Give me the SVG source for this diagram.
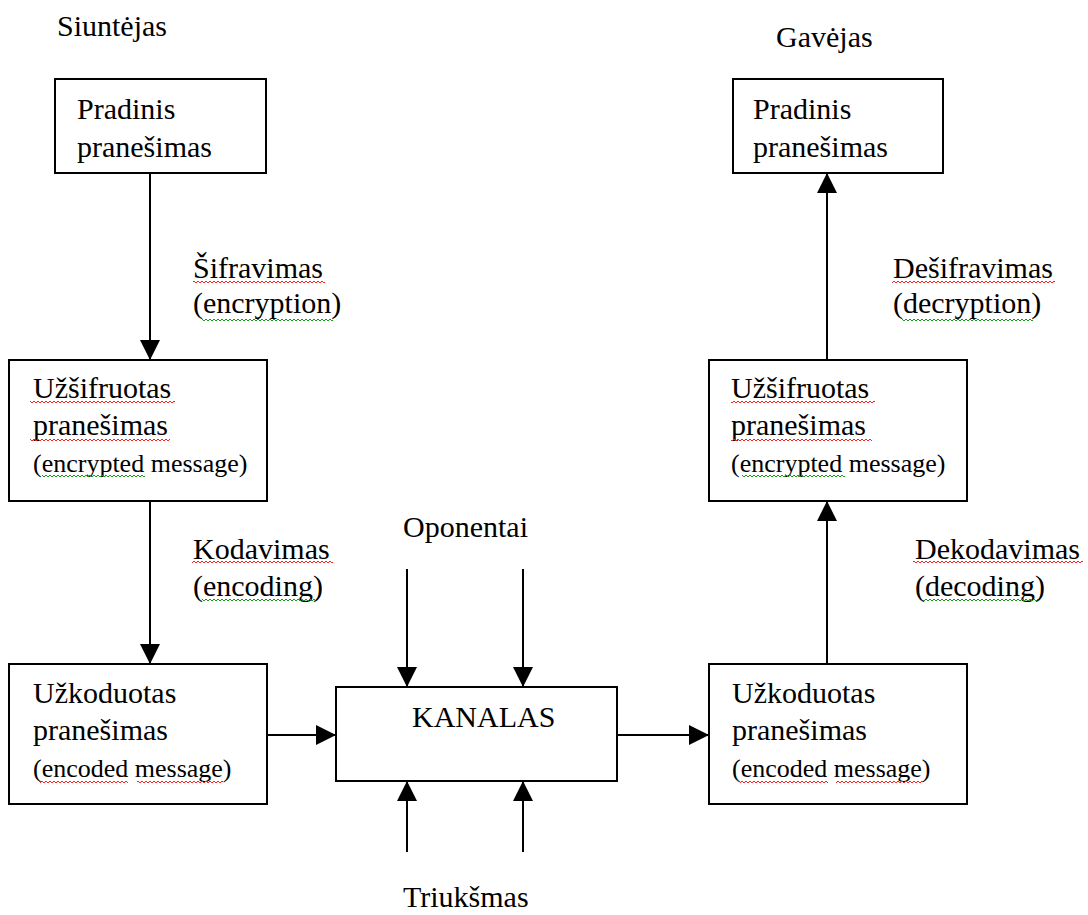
<svg xmlns="http://www.w3.org/2000/svg" width="1088" height="915" viewBox="0 0 1088 915">
<style>
text{font-family:'Liberation Serif','Times New Roman',Tinos,'DejaVu Serif',serif;font-size:30px;fill:#000}
.box{fill:#fff;stroke:#000;stroke-width:2}
.s{font-size:26px}
.c{stroke:#000;stroke-width:2;fill:none;marker-end:url(#ah)}
</style>
<defs>
<marker id="ah" markerUnits="userSpaceOnUse" markerWidth="20" markerHeight="20" refX="20" refY="10" orient="auto" viewBox="0 0 20 20">
<path d="M0,0 L20,10 L0,20 Z" fill="#000"/>
</marker>
<pattern id="r0" patternUnits="userSpaceOnUse" x="0" y="0" width="4" height="4"><path d="M0,3 L2,1 L4,3" fill="none" stroke="#ff2020" stroke-width="1"/></pattern>
<pattern id="r2" patternUnits="userSpaceOnUse" x="0" y="2" width="4" height="4"><path d="M0,3 L2,1 L4,3" fill="none" stroke="#ff2020" stroke-width="1"/></pattern>
<pattern id="g2" patternUnits="userSpaceOnUse" x="0" y="2" width="4" height="4"><path d="M0,3 L2,1 L4,3" fill="none" stroke="#1a9a1a" stroke-width="1"/></pattern>
</defs>
<rect width="1088" height="915" fill="#fff"/>

<g id="connectors">
<line class="c" x1="150" y1="174" x2="150" y2="360"/>
<line class="c" x1="150" y1="502" x2="150" y2="664"/>
<line class="c" x1="268" y1="735" x2="336" y2="735"/>
<line class="c" x1="618" y1="735" x2="709" y2="735"/>
<line class="c" x1="827" y1="663" x2="827" y2="501"/>
<line class="c" x1="827" y1="359" x2="827" y2="173"/>
<line class="c" x1="407" y1="569" x2="407" y2="687"/>
<line class="c" x1="523" y1="569" x2="523" y2="687"/>
<line class="c" x1="407" y1="852" x2="407" y2="781"/>
<line class="c" x1="523" y1="852" x2="523" y2="781"/>
</g>

<g font-family="Liberation Serif, Times New Roman, serif">
<g id="label-siuntejas"><text x="57" y="36">Siuntėjas</text></g>
<g id="label-gavejas"><text x="776" y="47">Gavėjas</text></g>

<g id="node-pradinis-left">
<rect class="box" x="55" y="79" width="211" height="94"/>
<text x="77" y="119">Pradinis</text>
<text x="77" y="157">pranešimas</text>
</g>

<g id="label-sifravimas">
<text x="193" y="278">Šifravimas</text>
<text x="193" y="313">(encryption)</text>
<rect x="193" y="280" width="132" height="4" fill="url(#r0)"/>
<rect x="202" y="318" width="131" height="4" fill="url(#g2)"/>
</g>

<g id="node-uzsifruotas-left">
<rect class="box" x="9" y="360" width="258" height="141"/>
<text x="33" y="398">Užšifruotas</text>
<text x="33" y="435">pranešimas</text>
<text class="s" x="33" y="472">(encrypted message)</text>
<rect x="30" y="400" width="145" height="4" fill="url(#r0)"/>
<rect x="30" y="438" width="140" height="4" fill="url(#r2)"/>
<rect x="42" y="474" width="103" height="4" fill="url(#g2)"/>
</g>

<g id="label-kodavimas">
<text x="193" y="559">Kodavimas</text>
<text x="193" y="596">(encoding)</text>
<rect x="192" y="560" width="141" height="4" fill="url(#r0)"/>
<rect x="202" y="598" width="113" height="4" fill="url(#g2)"/>
</g>

<g id="node-uzkoduotas-left">
<rect class="box" x="9" y="664" width="258" height="140"/>
<text x="33" y="703">Užkoduotas</text>
<text x="33" y="740">pranešimas</text>
<text class="s" x="33" y="777">(encoded message)</text>
<rect x="40" y="780" width="88" height="4" fill="url(#r0)"/>
<rect x="137" y="780" width="86" height="4" fill="url(#r0)"/>
</g>

<g id="label-oponentai"><text x="403" y="537">Oponentai</text></g>

<g id="node-kanalas">
<rect class="box" x="336" y="687" width="281" height="94"/>
<text x="412" y="727">KANALAS</text>
</g>

<g id="label-triuksmas"><text x="403" y="907">Triukšmas</text></g>

<g id="node-pradinis-right">
<rect class="box" x="733" y="79" width="210" height="94"/>
<text x="753" y="119">Pradinis</text>
<text x="753" y="157">pranešimas</text>
</g>

<g id="label-desifravimas">
<text x="893" y="278">Dešifravimas</text>
<text x="893" y="313">(decryption)</text>
<rect x="892" y="280" width="163" height="4" fill="url(#r0)"/>
<rect x="902" y="318" width="131" height="4" fill="url(#g2)"/>
</g>

<g id="node-uzsifruotas-right">
<rect class="box" x="709" y="360" width="258" height="141"/>
<text x="731" y="398">Užšifruotas</text>
<text x="731" y="435">pranešimas</text>
<text class="s" x="731" y="472">(encrypted message)</text>
<rect x="731" y="400" width="144" height="4" fill="url(#r0)"/>
<rect x="731" y="438" width="141" height="4" fill="url(#r2)"/>
<rect x="742" y="474" width="103" height="4" fill="url(#g2)"/>
</g>

<g id="label-dekodavimas">
<text x="915" y="559">Dekodavimas</text>
<text x="915" y="596">(decoding)</text>
<rect x="913" y="560" width="170" height="4" fill="url(#r0)"/>
<rect x="923" y="598" width="115" height="4" fill="url(#g2)"/>
</g>

<g id="node-uzkoduotas-right">
<rect class="box" x="709" y="664" width="258" height="140"/>
<text x="732" y="703">Užkoduotas</text>
<text x="732" y="740">pranešimas</text>
<text class="s" x="732" y="777">(encoded message)</text>
<rect x="740" y="780" width="88" height="4" fill="url(#r0)"/>
<rect x="836" y="780" width="87" height="4" fill="url(#r0)"/>
</g>
</g>
</svg>
